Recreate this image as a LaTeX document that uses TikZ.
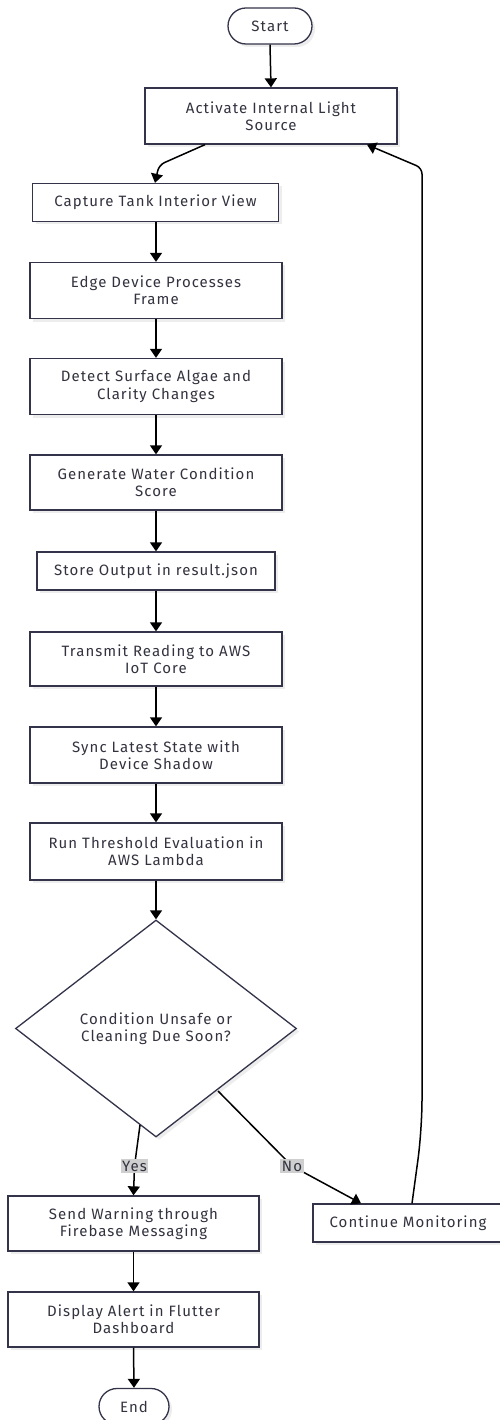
\documentclass[tikz,border=0pt]{standalone}
\usepackage{fontspec}
\setmainfont[LetterSpace=7]{Fira Sans}
\usetikzlibrary{arrows.meta,shapes.geometric,shadows}
\definecolor{boxline}{HTML}{33334A}
\definecolor{txt}{HTML}{333340}
\definecolor{lblbg}{HTML}{CFCFCF}
\begin{document}
\begin{tikzpicture}[x=1pt,y=-1pt,
  every node/.style={font=\fontsize{15}{17.3}\selectfont, text=txt, align=center},
  shd/.style={drop shadow={shadow xshift=3pt,shadow yshift=-3pt,fill=black!7,opacity=1}},
  stepbox/.style={draw=boxline, line width=1.3pt, fill=white, rectangle, inner sep=0pt, shd},
  termbox/.style={draw=boxline, line width=1.3pt, fill=white, rounded corners=18pt, minimum height=36pt, inner sep=0pt, shd},
  dec/.style={draw=boxline, line width=1.3pt, fill=white, diamond, inner sep=0pt, minimum width=281pt, minimum height=217pt, shd},
  arr/.style={draw=black, line width=1.5pt, -{Triangle[width=12pt,length=9pt]}},
  lbl/.style={fill=lblbg, inner sep=1.5pt, text=txt}
]
\useasboundingbox (0,0) rectangle (499,1420);
\node[termbox, minimum width=84pt] (start) at (270,26) {Start};
\node[stepbox, minimum width=252pt, minimum height=56pt] (act) at (271,116) {Activate Internal Light\\Source};
\node[stepbox, minimum width=246pt, minimum height=38pt] (cap) at (155.5,202.5) {Capture Tank Interior View};
\node[stepbox, minimum width=252pt, minimum height=56pt] (edge) at (156,290.5) {Edge Device Processes\\Frame};
\node[stepbox, minimum width=252pt, minimum height=56pt] (det) at (156,386.5) {Detect Surface Algae and\\Clarity Changes};
\node[stepbox, minimum width=252pt, minimum height=55pt] (gen) at (156,482.5) {Generate Water Condition\\Score};
\node[stepbox, minimum width=238pt, minimum height=38pt] (store) at (156,571) {Store Output in result.json};
\node[stepbox, minimum width=252pt, minimum height=54pt] (trans) at (156,659) {Transmit Reading to AWS\\IoT Core};
\node[stepbox, minimum width=252pt, minimum height=56pt] (sync) at (156,755) {Sync Latest State with\\Device Shadow};
\node[stepbox, minimum width=252pt, minimum height=57pt] (run) at (156,851.5) {Run Threshold Evaluation in\\AWS Lambda};
\node[dec] (q) at (156,1028.5) {Condition Unsafe or\\Cleaning Due Soon?};
\node[stepbox, minimum width=251pt, minimum height=55pt] (send) at (133.5,1223.5) {Send Warning through\\Firebase Messaging};
\node[stepbox, minimum width=251pt, minimum height=55pt] (disp) at (133.5,1319.5) {Display Alert in Flutter\\Dashboard};
\node[termbox, minimum width=70pt] (end) at (134,1406.5) {End};
\node[stepbox, minimum width=190pt, minimum height=38pt] (cont) at (408,1223) {Continue Monitoring};

\draw[arr] (start.south) -- (act.north);
\draw[arr, rounded corners=6pt] ([xshift=-66pt]act.south) -- (159,165) -- (cap.north -| 155,0);
\draw[arr] (cap.south -| edge.north) -- (edge.north);
\draw[arr] (edge.south) -- (det.north);
\draw[arr] (det.south) -- (gen.north);
\draw[arr] (gen.south) -- (store.north);
\draw[arr] (store.south) -- (trans.north);
\draw[arr] (trans.south) -- (sync.north);
\draw[arr] (sync.south) -- (run.north);
\draw[arr] (run.south) -- (q.north);
\draw[arr] (140,1125) -- (134.5,1166) node[lbl, pos=1] (yes) {Yes} -- (send.north);
\draw[arr] (218,1091) -- (292,1166) node[lbl, pos=1] (no) {No} -- (cont.north -| 361,0);
\draw[arr] (send.south) -- (disp.north);
\draw[arr] (disp.south) -- (end.north);
\draw[arr, rounded corners=6pt] (cont.north -| 412,0) [rounded corners=30pt] -- (422,1130) [rounded corners=6pt] -- (422,168) -- (act.south -| 367,0);
\end{tikzpicture}
\end{document}
